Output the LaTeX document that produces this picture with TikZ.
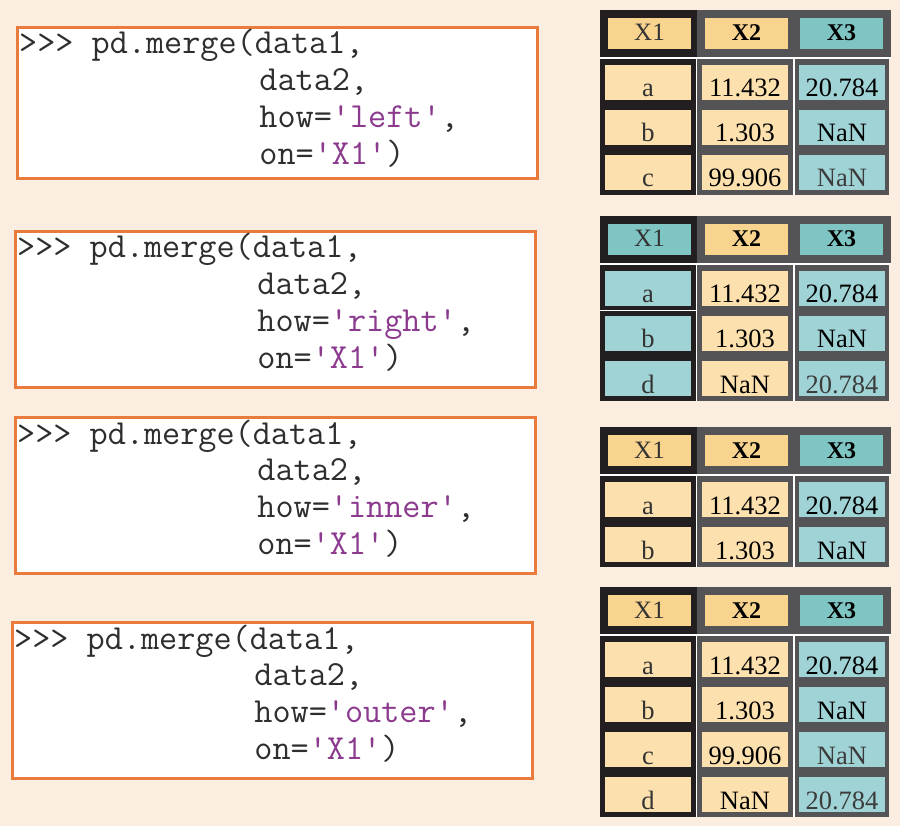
\documentclass[tikz,border=0pt]{standalone}
\usepackage{fontspec}
\setmainfont{Liberation Serif}
\usepackage{tikz}

\definecolor{bgcream}{HTML}{FBEEE1}
\definecolor{edgeorange}{HTML}{E97B3C}
\definecolor{codegray}{HTML}{2E2E2E}
\definecolor{strpurple}{HTML}{8B3A8E}
\definecolor{darkcol}{HTML}{231F20}
\definecolor{graycol}{HTML}{545356}
\definecolor{hdrorange}{HTML}{F9D48F}
\definecolor{bodyorange}{HTML}{FCE0AD}
\definecolor{hdrteal}{HTML}{7FC5C3}
\definecolor{bodyteal}{HTML}{A0D3D6}
\definecolor{keytext}{HTML}{333333}
\definecolor{dimtext}{HTML}{3C3C3C}

% one merged frame: name, top, key header colour, key body colour, rows, row list
\newcommand{\mergetable}[6]{%
  % Header
  \fill[darkcol] (600,#2) rectangle (697,#2+47);
  \fill[graycol] (697,#2) rectangle (891,#2+47);
  \node[hdrcell, fill=#3, text=keytext] (#1-h1) at (649.5,#2+23.5) {X1};
  \node[hdrcell, fill=hdrorange, font=\fontsize{24}{26}\selectfont\bfseries] (#1-h2) at (746.5,#2+23.5) {X2};
  \node[hdrcell, fill=hdrteal, font=\fontsize{24}{26}\selectfont\bfseries] (#1-h3) at (841.5,#2+23.5) {X3};
  % Body
  \fill[white] (600,#2+47) rectangle (891,#2+49);
  \fill[darkcol] (600,#2+49) rectangle (695.5,#2+50+45*#5);
  \fill[white] (695.5,#2+49) rectangle (794.5,#2+50+45*#5);
  \fill[graycol] (697,#2+49) rectangle (793,#2+50+45*#5);
  \fill[graycol] (794.5,#2+49) rectangle (889,#2+50+45*#5);
  \foreach \k/\v/\w/\wc [count=\i from 0] in {#6}{
    \node[bodycell, fill=#4, text=keytext] (#1-k\i) at (648,#2+72.5+45*\i) {\k};
    \node[bodycell, fill=bodyorange] (#1-v\i) at (745,#2+72.5+45*\i) {\v};
    \node[bodycell, fill=bodyteal, text=\wc] (#1-w\i) at (842,#2+72.5+45*\i) {\w};
  }
}

\begin{document}
\begin{tikzpicture}[x=1pt, y=-1pt,
    codebox/.style={draw=edgeorange, line width=3pt, fill=white, minimum width=519.5pt,
      inner sep=0pt, outer sep=0pt, anchor=north west},
    codeline/.style={anchor=base west, inner sep=0pt, text=codegray,
      font=\ttfamily\fontsize{35.2}{40}\selectfont},
    hdrcell/.style={minimum width=83pt, minimum height=31pt, text height=15pt, text depth=0pt,
      inner sep=0pt, font=\fontsize{25}{27}\selectfont},
    bodycell/.style={minimum width=86pt, minimum height=35pt, text height=29pt, text depth=0pt,
      inner sep=0pt, font=\fontsize{26.5}{28}\selectfont}]

    \useasboundingbox (0,0) rectangle (900,826);
    \fill[bgcream] (0,0) rectangle (900,826);

    % Code boxes
    \foreach \n/\bx/\by/\bh/\how in {1/17.5/27.5/151.5/left, 2/15.5/231.5/156/right,
                                     3/15.5/417.5/156/inner, 4/12.5/622.5/156/outer}{
        \node[codebox, minimum height=\bh pt] (box\n) at (\bx,\by) {};
        \node[codeline] (box\n-l1) at ([xshift=1.5pt,yshift=-26.5pt]box\n.north west) {>>> pd.merge(data1,};
        \node[codeline] (box\n-l2) at ([xshift=241.7pt,yshift=-63.2pt]box\n.north west) {data2,};
        \node[codeline] (box\n-l3) at ([xshift=241.7pt,yshift=-99.9pt]box\n.north west) {how=\textcolor{strpurple}{'\how'},};
        \node[codeline] (box\n-l4) at ([xshift=241.7pt,yshift=-136.6pt]box\n.north west) {on=\textcolor{strpurple}{'X1'})};
    }

    % Result tables
    \mergetable{tl}{10}{hdrorange}{bodyorange}{3}{a/11.432/20.784/black, b/1.303/NaN/black, c/99.906/NaN/dimtext}
    \mergetable{tr}{216}{hdrteal}{bodyteal}{3}{a/11.432/20.784/black, b/1.303/NaN/black, d/NaN/20.784/dimtext}
    \fill[white] (600,310.5) rectangle (695.5,311.5);
    \mergetable{ti}{427}{hdrorange}{bodyorange}{2}{a/11.432/20.784/black, b/1.303/NaN/black}
    \mergetable{to}{587}{hdrorange}{bodyorange}{4}{a/11.432/20.784/black, b/1.303/NaN/black, c/99.906/NaN/dimtext, d/NaN/20.784/dimtext}
\end{tikzpicture}
\end{document}
